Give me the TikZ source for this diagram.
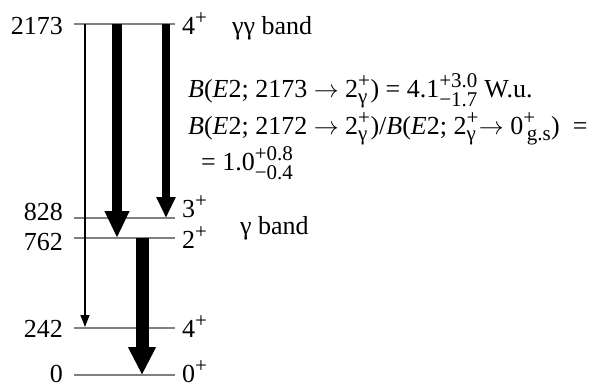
\documentclass[tikz,border=0pt]{standalone}
\usepackage{amsmath}
\usepackage{fontspec}
\setmainfont{Liberation Serif}
\usetikzlibrary{arrows.meta}
\DeclareMathSizes{26}{26}{21}{15}
\newcommand\supsubx[2]{$^{\text{#1}}_{\text{#2}}$}
\definecolor{levelgray}{RGB}{128,128,128}
\tikzset{
  level/.style={draw=levelgray, line width=1.8pt},
  lbl/.style={inner sep=0pt, font=\fontsize{26}{30}\selectfont},
  thinarrow/.style={line width=1.5pt, -{Triangle[width=9pt,length=12pt]}}
}
\begin{document}
\begin{tikzpicture}[x=1pt,y=-1pt]
\useasboundingbox (0,0) rectangle (605,386);
% level endpoints
\coordinate (l2173a) at (74,24);  \coordinate (l2173b) at (175,24);
\coordinate (l828a) at (74,218);  \coordinate (l828b) at (175,218);
\coordinate (l762a) at (74,238);  \coordinate (l762b) at (175,238);
\coordinate (l242a) at (74,328);  \coordinate (l242b) at (175,328);
\coordinate (l0a) at (74,375);    \coordinate (l0b) at (175,375);
\draw[level] (l2173a) -- (l2173b);
\draw[level] (l828a) -- (l828b);
\draw[level] (l762a) -- (l762b);
\draw[level] (l242a) -- (l242b);
\draw[level] (l0a) -- (l0b);
% arrow endpoints
\coordinate (a1s) at (85,24);  \coordinate (a1e) at (85,327);
\coordinate (a2s) at (117,24); \coordinate (a2e) at (117,238);
\coordinate (a3s) at (166,24); \coordinate (a3e) at (166,218);
\coordinate (a4s) at (142,238); \coordinate (a4e) at (142,375);
\draw[thinarrow] (a1s) -- (a1e);
\draw[line width=10pt, -{Triangle[width=23pt,length=27pt]}] (a2s) -- (a2e);
\draw[line width=8pt, -{Triangle[width=18pt,length=21pt]}] (a3s) -- (a3e);
\draw[line width=13pt, -{Triangle[width=26pt,length=28pt]}] (a4s) -- (a4e);
% left labels
\node[lbl, anchor=base east] (e2173) at (63,34) {2173};
\node[lbl, anchor=base east] (e828) at (63,220) {828};
\node[lbl, anchor=base east] (e762) at (63,250) {762};
\node[lbl, anchor=base east] (e242) at (63,337) {242};
\node[lbl, anchor=base east] (e0) at (63,382) {0};
% right labels
\node[lbl, anchor=base west] (s2173) at (182,34) {4\textsuperscript{+}};
\node[lbl, anchor=base west] (s828) at (182,217) {3\textsuperscript{+}};
\node[lbl, anchor=base west] (s762) at (182,248) {2\textsuperscript{+}};
\node[lbl, anchor=base west] (s242) at (182,337) {4\textsuperscript{+}};
\node[lbl, anchor=base west] (s0) at (182,382) {0\textsuperscript{+}};
% band labels
\node[lbl, anchor=base west] (gg) at (232,34) {γγ band};
\node[lbl, anchor=base west] (g) at (240,234) {γ band};
% formulas
\node[lbl, anchor=base west] (f1) at (188,97) {\textit{B}(\textit{E}2; 2173 $\rightarrow$ 2\supsubx{+}{γ})\ =\ 4.1\supsubx{+3.0}{−1.7} W.u.};
\node[lbl, anchor=base west] (f2) at (188,134) {\textit{B}(\textit{E}2; 2172 $\rightarrow$ 2\supsubx{+}{γ})/\textit{B}(\textit{E}2; 2\supsubx{+}{γ}$\rightarrow$ 0\supsubx{+}{\,g.s})\ \ =};
\node[lbl, anchor=base west] (f3) at (201,170) {= 1.0\supsubx{+0.8}{−0.4}};
\end{tikzpicture}
\end{document}
